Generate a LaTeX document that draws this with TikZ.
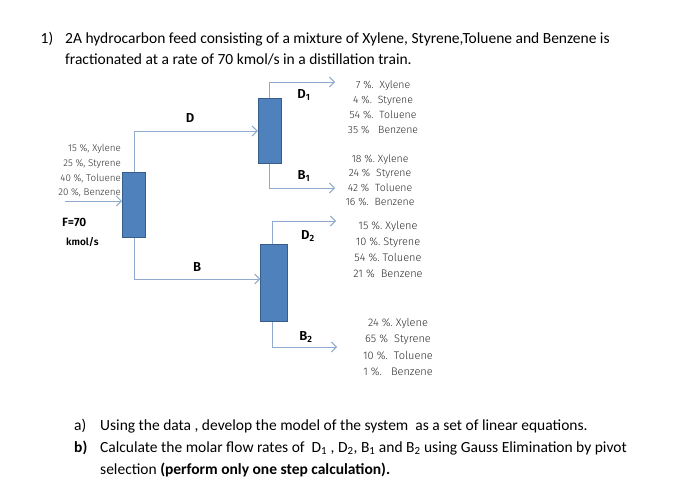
\documentclass[tikz,border=0pt]{standalone}
\usepackage{fontspec}
\setmainfont{Carlito}
\newfontfamily\handfont{Fira Sans Light}
\usepackage{tikz}
\usetikzlibrary{
  arrows.meta,%
  calc,%
  positioning
}
\definecolor{colblue}{RGB}{79,129,189}
\definecolor{coledge}{RGB}{56,93,138}
\definecolor{flowblue}{RGB}{143,170,204}
\definecolor{inkgray}{RGB}{45,45,45}
\tikzset{>={Straight Barb[length=5pt,width=10pt]}}
\tikzset{column/.style={draw=coledge, fill=colblue, line width=1pt,
    inner sep=0pt, minimum width=23pt, minimum height=65pt}}
\tikzset{flow/.style={draw=flowblue, line width=0.9pt}}
\tikzset{hand/.style={font=\handfont\fontsize{10.5}{15}\selectfont,
    text=inkgray, align=center, inner sep=0pt}}
\tikzset{stream/.style={font=\handfont\bfseries\fontsize{13}{14}\selectfont,
    inner sep=0pt}}
\tikzset{printed/.style={font=\fontsize{15.5}{21}\selectfont, anchor=base west,
    inner sep=0pt}}

\begin{document}
\begin{tikzpicture}[x=1pt, y=-1pt]
  \useasboundingbox[fill=white] (0,0) rectangle (700,487);

  % question header
  \node[printed] (num) at (40.5,43.5) {1)};
  \node[printed] (introone) at (65,43.5)
  {2A hydrocarbon feed consisting of a mixture of Xylene, Styrene,Toluene and Benzene is};
  \node[printed] (introtwo) at (65,64.5)
  {fractionated at a rate of 70 kmol/s in a distillation train.};

  % columns
  \node[column] (feed) at (134,205) {};
  \node[column, minimum width=23.5pt] (colone) at (270,131) {};
  \node[column, minimum width=26.5pt, minimum height=77pt] (coltwo) at (274,283) {};

  % stream ends
  \coordinate (feedin) at (65,201);
  \coordinate (dend) at (335,82);
  \coordinate (bend) at (335,188);
  \coordinate (dtwoend) at (336,221);
  \coordinate (btwoend) at (337,347);

  % streams
  \draw[flow, ->] (feedin) -- (feedin -| feed.west);
  \draw[flow, ->] (feed.north) |- (colone.west);
  \draw[flow, ->] (feed.south) -- ++(0,41) -- ([yshift=4pt]coltwo.west);
  \draw[flow, ->] ([xshift=-1pt]colone.north) |- (dend);
  \draw[flow, ->] ([xshift=-1pt]colone.south) |- (bend);
  \draw[flow, ->] ([xshift=-2pt]coltwo.north) |- (dtwoend);
  \draw[flow, ->] ([xshift=-2pt]coltwo.south) |- (btwoend);

  % stream names
  \node[stream] (dlab) at (190,118) {D};
  \node[stream] (blab) at (197,267) {B};
  \node[stream] (donelab) at (304,95) {D\textsubscript{1}};
  \node[stream] (bonelab) at (304,176) {B\textsubscript{1}};
  \node[stream] (dtwolab) at (308,236) {D\textsubscript{2}};
  \node[stream] (btwolab) at (306,337) {B\textsubscript{2}};

  % compositions
  \node[hand, align=right, anchor=east, font=\handfont\fontsize{9.8}{14.7}\selectfont]
  (feedmix) at (121,171)
  {15 \%, Xylene\\ 25 \%, Styrene\\ 40 \%, Toluene\\ 20 \%, Benzene};
  \node[stream, anchor=west, font=\handfont\bfseries\fontsize{12}{13}\selectfont]
  (frate) at (62,222) {F=70};
  \node[stream, anchor=west, font=\handfont\bfseries\fontsize{10}{11}\selectfont]
  (funit) at (66,242) {kmol/s};
  \node[hand] (donemix) at (383,107)
  {7 \%.\ \ Xylene\\ 4 \%.\ \ Styrene\\ 54 \%.\ \ Toluene\\ 35 \%\ \ \ Benzene};
  \node[hand, font=\handfont\fontsize{10.5}{14.5}\selectfont] (bonemix) at (380,180)
  {18 \%.\ Xylene\\ 24 \%\ \ Styrene\\ 42 \%\ \ Toluene\\ 16 \%.\ \ Benzene};
  \node[hand, font=\handfont\fontsize{11}{16}\selectfont] (dtwomix) at (388,250)
  {15 \%.\ Xylene\\ 10 \%.\ Styrene\\ 54 \%.\ Toluene\\ 21 \%\ \ Benzene};
  \node[hand, font=\handfont\fontsize{11}{16.3}\selectfont] (btwomix) at (398,347)
  {24 \%.\ Xylene\\ 65 \%\ \ Styrene\\ 10 \%.\ \ Toluene\\ 1 \%.\ \ \ Benzene};

  % tasks
  \node[printed] (qa) at (74,430) {a)};
  \node[printed] (qatext) at (100,430)
  {Using the data , develop the model of the system\ \ as a set of linear equations.};
  \node[printed] (qb) at (74,452) {\textbf{b)}};
  \node[printed] (qbtext) at (100,452)
  {Calculate the molar flow rates of\ \ D\textsubscript{1} , D\textsubscript{2}, B\textsubscript{1} and B\textsubscript{2} using Gauss Elimination by pivot};
  \node[printed] (qbmore) at (100,474)
  {selection \textbf{(perform only one step calculation).}};
\end{tikzpicture}
\end{document}
